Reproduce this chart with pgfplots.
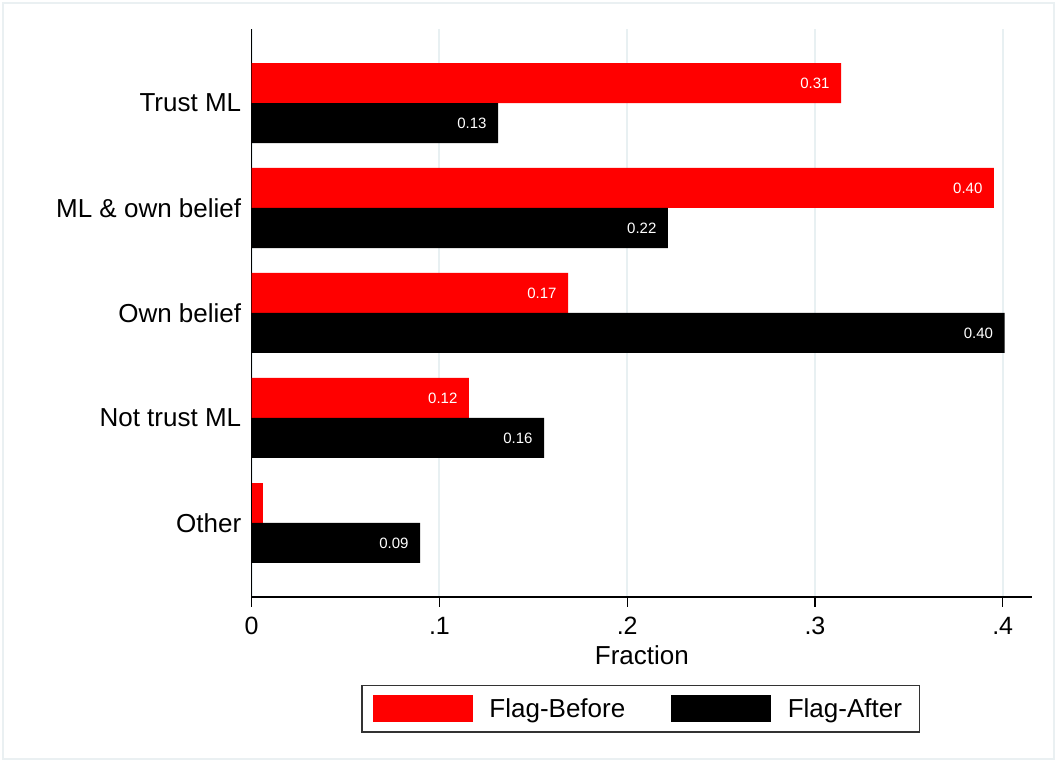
\documentclass[border=0pt]{standalone}
\usepackage{fontspec}
\setmainfont{Liberation Sans}
\usepackage{pgfplots}
\pgfplotsset{compat=1.18}
\definecolor{gridc}{RGB}{232,240,242}
\definecolor{framec}{RGB}{234,240,242}
\begin{document}
\begin{tikzpicture}[x=1pt,y=1pt]
\path[use as bounding box] (0,0) rectangle (1057,762);
\draw[framec, line width=1.5pt] (3,3) rectangle (1054,759);
\begin{axis}[
  at={(251.7pt,165pt)}, anchor=south west,
  scale only axis, width=780.3pt, height=568pt,
  xbar, bar width=0.381,
  xmin=0, xmax=0.4156, ymin=-0.705, ymax=4.705,
  axis lines=left, axis line style={-, line width=1.3pt, black},
  /pgf/number format/assume math mode=true,
  xtick={0,0.1,0.2,0.3,0.4}, xticklabels={0,.1,.2,.3,.4},
  ytick={0,1,2,3,4},
  yticklabels={Other, Not trust ML, Own belief, ML \& own belief, Trust ML},
  ytick style={draw=none},
  tick align=outside, major tick length=10pt,
  xtick style={black, line width=1.3pt},
  xmajorgrids, major grid style={gridc, line width=2pt},
  ticklabel style={font=\fontsize{25}{30}\selectfont},
  xticklabel style={yshift=-7pt},
  yticklabel style={font=\fontsize{26}{30}\selectfont, xshift=3pt},
  xlabel={Fraction},
  xlabel style={font=\fontsize{26}{30}\selectfont, yshift=-4pt},
  point meta=x,
  every node near coord/.append style={anchor=east, text=white, font=\fontsize{15}{18}\selectfont, xshift=-8pt},
  legend columns=2,
  legend image code/.code={\fill[#1] (0pt,-13.3pt) rectangle (100pt,13.3pt);},
  legend style={at={(0.4985,-0.1967)}, anchor=center, draw=black!80, line width=1.3pt,
    font=\fontsize{26}{30}\selectfont, inner xsep=11pt, inner ysep=10pt,
    nodes={inner xsep=6.5pt, inner ysep=0pt},
    /tikz/every odd column/.append style={column sep=10pt},
    /tikz/every even column/.append style={column sep=39.5pt}},
]
\addplot[fill=red, draw=none, bar shift=0.1905,
  nodes near coords={\pgfmathprintnumber[fixed,fixed zerofill,precision=2]{\pgfplotspointmeta}}]
  coordinates {(0.3139,4) (0.3953,3) (0.1685,2) (0.1157,1)};
\addlegendentry{Flag-Before}
\addplot[fill=red, draw=none, bar shift=0.1905, forget plot]
  coordinates {(0.0060,0)};
\addplot[fill=black, draw=none, bar shift=-0.1905,
  nodes near coords={\pgfmathprintnumber[fixed,fixed zerofill,precision=2]{\pgfplotspointmeta}}]
  coordinates {(0.1312,4) (0.2217,3) (0.4010,2) (0.1557,1) (0.0897,0)};
\addlegendentry{Flag-After}
\end{axis}
\end{tikzpicture}
\end{document}
